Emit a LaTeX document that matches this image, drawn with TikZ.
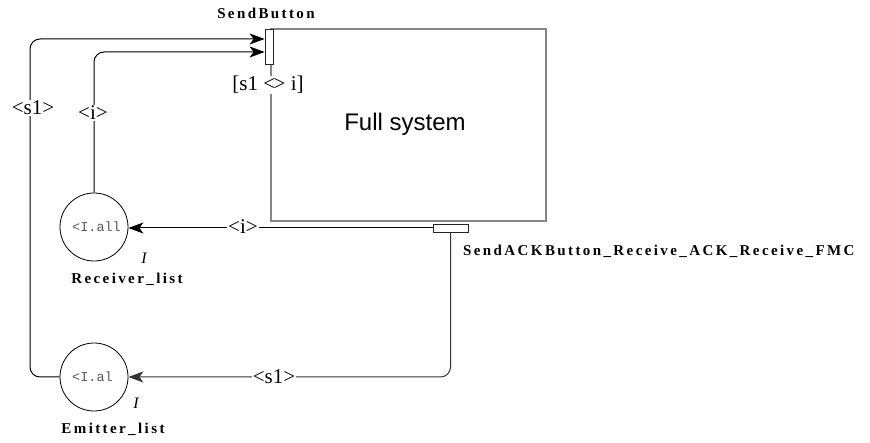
\documentclass[tikz,border=0pt]{standalone}
\usepackage{fontspec}
\setmainfont{Liberation Serif}
\setmonofont{Liberation Mono}
\newfontfamily\sysfont{Liberation Sans}
\newfontfamily\lblfont[LetterSpace=16]{Liberation Serif}
\usetikzlibrary{arrows.meta}
\begin{document}
\begin{tikzpicture}[x=1pt,y=-1pt,
  sysbox/.style={draw=black!48, line width=1.8pt, inner sep=0pt},
  portbox/.style={draw=black!85, fill=white, line width=0.8pt, inner sep=0pt},
  store/.style={circle, draw, line width=0.8pt, minimum size=68pt, inner sep=0pt},
  conn/.style={line width=1pt, -{Stealth[length=15pt,width=11pt,inset=4pt]}},
  flowlbl/.style={fill=white, inner sep=1pt, font=\fontsize{21}{24}\selectfont},
  namelbl/.style={font=\lblfont\bfseries\fontsize{15}{18}\selectfont, inner sep=0pt},
  typelbl/.style={font=\itshape\fontsize{16}{18}\selectfont, inner sep=0pt},
  initlbl/.style={font=\ttfamily\fontsize{13.5}{15}\selectfont, text=black!65, inner sep=0pt}]
\useasboundingbox (0,0) rectangle (870,443);
% system box
\node (sys) [sysbox, minimum width=275pt, minimum height=192pt] at (408.5,125) {};
\node (systxt) at (405,124) {\sysfont\fontsize{24}{28}\selectfont Full system};
\node (guard) [flowlbl, inner sep=0pt] at (268,85) {[s1 <\kern-1.5pt> i]};
% ports
\node (sb) [portbox, minimum width=8pt, minimum height=35pt] at (269,46.5) {};
\node (ack) [portbox, minimum width=35pt, minimum height=8pt] at (450.5,228) {};
\node (sbname) [namelbl] at (266,13) {SendButton};
\node (ackname) [namelbl, anchor=west] at (463,251) {SendACKButton\_Receive\_ACK\_Receive\_FMC};
% stores
\node (recv) [store] at (94,227) {};
\node (emit) [store] at (94,377) {};
\node (recvinit) [initlbl, anchor=west] at (72,227) {<I.all};
\node (emitinit) [initlbl, anchor=west] at (72,377) {<I.al};
\node (recvtype) [typelbl] at (144,258) {I};
\node (emittype) [typelbl] at (136,403) {I};
\node (recvname) [namelbl] at (127,279) {Receiver\_list};
\node (emitname) [namelbl] at (113,429) {Emitter\_list};
% connectors
\coordinate (c1) at (30,39);
\coordinate (c2) at (93,52);
\draw[conn, rounded corners=10pt] (emit.west) -| (c1) -- (sb.west |- c1);
\draw[conn, rounded corners=10pt] (recv.north) |- (sb.west |- c2);
\draw[conn] (ack.west) -- (ack.west -| recv.east);
\draw[conn, draw=black!80, rounded corners=10pt] (ack.south) |- (emit.east);
% flow labels
\node (l1) [flowlbl] at (33,108) {<s1>};
\node (l2) [flowlbl] at (93,113) {<i>};
\node (l3) [flowlbl] at (243,227) {<i>};
\node (l4) [flowlbl] at (274,377) {<s1>};
\end{tikzpicture}
\end{document}
